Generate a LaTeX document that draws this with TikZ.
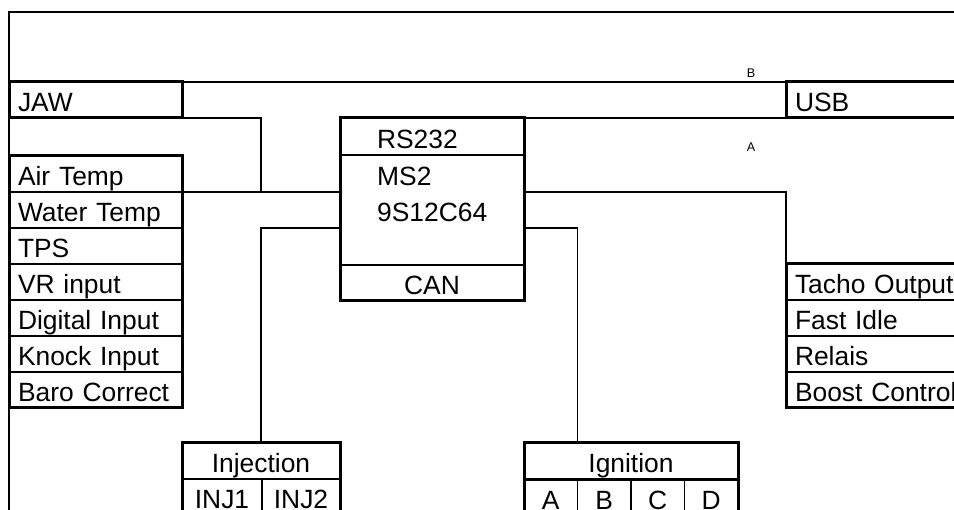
\documentclass[tikz,border=0pt]{standalone}
\usepackage{fontspec}
\setmainfont{Liberation Sans}

\begin{document}
\begin{tikzpicture}[x=1pt,y=-1pt,
  every node/.style={font=\fontsize{26.4}{30}\selectfont},
  cell/.style={draw,line width=1.5pt,inner xsep=9pt,inner ysep=0pt,outer sep=0pt,
    text height=30pt,text depth=6pt,anchor=north west},
  lcell/.style={cell,text width=155pt,align=left},
  rcell/.style={cell,text width=196pt,align=left},
  outline/.style={line width=3pt},
  wire/.style={line width=1.8pt},
  tag/.style={font=\fontsize{12.6}{14}\selectfont,inner sep=0pt},
  ]
  \useasboundingbox (0,0) rectangle (954,510);
  \clip (0,0) rectangle (954,510);
  \draw[line width=2.4pt] (9,12) rectangle (1000,560);

  % inputs
  \node[lcell,line width=3pt] (jaw) at (9,82) {JAW};
  \foreach \name/\txt [count=\i from 0] in {air/Air Temp,water/Water Temp,tps/TPS,
      vr/VR input,dig/Digital Input,knock/Knock Input,baro/Baro Correct}
    \node[lcell] (\name) at (9,156+36*\i) {\txt};
  \draw[outline] (air.north west) rectangle (baro.south east);

  % outputs
  \node[rcell,line width=3pt] (usb) at (786,82) {USB};
  \foreach \name/\txt [count=\i from 0] in {tacho/Tacho Output,idle/Fast Idle,
      relais/Relais,boost/Boost Control}
    \node[rcell] (\name) at (786,264+36*\i) {\txt};
  \draw[outline] (tacho.north west) rectangle (boost.south east);

  % controller
  \node[cell,text width=110pt,inner xsep=37pt,align=left,text height=31pt] (rs) at (340,118) {RS232};
  \node[cell,minimum width=184pt,minimum height=110pt] (core) at (rs.south west) {};
  \node[cell,minimum width=184pt] (can) at (core.south west) {CAN};
  \draw[outline] (rs.north west) rectangle (can.south east);
  \node[anchor=base west,inner sep=0pt] (ms) at (377,186) {MS2};
  \node[anchor=base west,inner sep=0pt] (chip) at (377,222) {9S12C64};

  % injection
  \node[cell,minimum width=158pt] (inj) at (182,443) {Injection};
  \node[cell,minimum width=80pt] (injA) at (inj.south west) {INJ1};
  \node[cell,minimum width=78pt] (injB) at (injA.north east) {INJ2};
  \draw[outline] (inj.north west) rectangle (injB.south east);

  % ignition
  \node[cell,minimum width=214pt] (ign) at (524,443) {Ignition};
  \foreach \c [count=\i from 0] in {A,B,C,D}
    \node[cell,minimum width=53.5pt] (ign\c) at (524+53.5*\i,480) {\c};
  \draw[outline] (ign.north west) rectangle (ignD.south east);

  % wires
  \draw[wire] (jaw.north east) -- (usb.north west);
  \draw[wire] (rs.north east) -- (usb.south west);
  \node[tag] (tagB) at (751,73) {B};
  \node[tag] (tagA) at (751,147.5) {A};
  \draw[wire] (jaw.south east) -| (inj.north |- air.south);
  \draw[wire] (air.south east) -- (air.south -| core.west);
  \draw[wire] (inj.north) |- (water.south -| core.west);
  \draw[wire] (core.east |- air.south) -| (tacho.north west);
  \draw[wire] (core.east |- water.south) -| (ign.north -| ignA.east);
\end{tikzpicture}
\end{document}
